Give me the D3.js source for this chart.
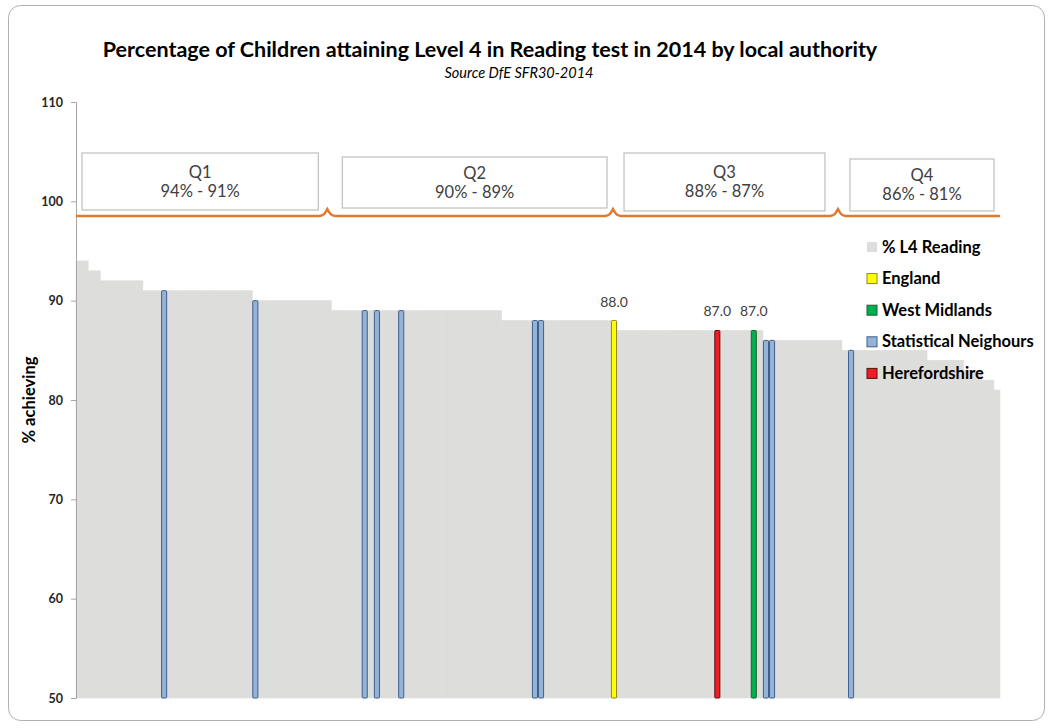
<!DOCTYPE html>
<html>
<head>
<meta charset="utf-8">
<script src="https://cdn.jsdelivr.net/npm/d3@7"></script>
<style>
  body { margin: 0; background: #fff; }
  text { font-family: Lato, "Open Sans", sans-serif; }
</style>
</head>
<body>
<div id="chart"></div>
<script>
// valeurs : % L4 Reading par autorite locale, triees
const laValues = [
  94, 94,
  93, 93,
  92, 92, 92, 92, 92, 92, 92,
  91, 91, 91, 91, 91, 91, 91, 91, 91, 91, 91, 91, 91, 91, 91, 91, 91, 91,
  90, 90, 90, 90, 90, 90, 90, 90, 90, 90, 90, 90, 90,
  89, 89, 89, 89, 89, 89, 89, 89, 89, 89, 89, 89, 89, 89, 89, 89, 89, 89, 89, 89, 89, 89, 89, 89, 89, 89, 89, 89,
  88, 88, 88, 88, 88, 88, 88, 88, 88, 88, 88, 88, 88, 88, 88, 88, 88, 88, 88,
  87, 87, 87, 87, 87, 87, 87, 87, 87, 87, 87, 87, 87, 87, 87, 87, 87, 87, 87, 87, 87, 87, 87, 87,
  86, 86, 86, 86, 86, 86, 86, 86, 86, 86, 86, 86, 86,
  85, 85, 85, 85, 85, 85, 85, 85, 85, 85, 85, 85, 85, 85,
  84, 84, 84, 84, 84, 84,
  83, 83, 83,
  82, 82,
  81
];
const laCategories = laValues.map((d, i) => "LA" + (i + 1));

// barres mises en evidence (rang dans le classement)
const highlightIdx  = [14, 29, 47, 49, 53, 75, 76, 88, 105, 111, 113, 114, 127];
const highlightType = ["sn", "sn", "sn", "sn", "sn", "sn", "sn", "eng", "here", "wm", "sn", "sn", "sn"];
const highlightLabel = ["", "", "", "", "", "", "", "88.0", "87.0", "87.0", "", "", ""];

// quartiles
const quartNames  = ["Q1", "Q2", "Q3", "Q4"];
const quartRanges = ["94% - 91%", "90% - 89%", "88% - 87%", "86% - 81%"];
const quartBreaks = [42, 89, 126];   // premier rang de chaque quartile suivant

const yTicks = [50, 60, 70, 80, 90, 100, 110];

const legendKeys   = ["gray", "eng", "wm", "sn", "here"];
const legendLabels = ["% L4 Reading", "England", "West Midlands", "Statistical Neighours", "Herefordshire"];

const fills   = { gray: "#dddddb", sn: "#95b3d7", eng: "#ffff00", wm: "#00b050", here: "#ee1c24" };
const strokes = { gray: "none", sn: "#3f5f8a", eng: "#8a8a20", wm: "#1f5f30", here: "#5a1010" };

const W = 1050, H = 728;
const svg = d3.select("#chart").append("svg")
  .attr("width", W).attr("height", H);

// cadre
svg.append("rect")
  .attr("x", 8.5).attr("y", 5.5)
  .attr("width", 1036).attr("height", 715)
  .attr("rx", 12)
  .attr("fill", "#fff")
  .attr("stroke", "#b0b0b0");

const x = d3.scaleBand().domain(laCategories).range([76, 1000]).padding(0);
const y = d3.scaleLinear().domain([50, 110]).range([698, 102]);

// titre
svg.append("text")
  .attr("x", 490).attr("y", 57)
  .attr("text-anchor", "middle")
  .attr("font-size", 21.5).attr("font-weight", "bold")
  .attr("fill", "#000")
  .text("Percentage of Children attaining Level 4 in Reading test in 2014 by local authority");
svg.append("text")
  .attr("x", 519).attr("y", 78)
  .attr("text-anchor", "middle")
  .attr("font-size", 14.5).attr("font-style", "italic")
  .attr("fill", "#000")
  .text("Source DfE SFR30-2014");

// barres grises
svg.append("g").selectAll("rect")
  .data(laValues)
  .join("rect")
  .attr("x", (d, i) => x(laCategories[i]))
  .attr("y", d => y(d))
  .attr("width", x.bandwidth())
  .attr("height", d => y(50) - y(d))
  .attr("fill", fills.gray)
  .attr("stroke", fills.gray)
  .attr("stroke-width", 0.6);

// barres colorees
const hl = highlightIdx.map((idx, k) => ({
  cat: laCategories[idx], v: laValues[idx], t: highlightType[k], lab: highlightLabel[k]
}));
svg.append("g").selectAll("rect")
  .data(hl)
  .join("rect")
  .attr("x", d => x(d.cat) + 0.5)
  .attr("y", d => y(d.v))
  .attr("width", x.bandwidth() - 1)
  .attr("height", d => y(50) - y(d.v))
  .attr("rx", 1)
  .attr("fill", d => fills[d.t])
  .attr("stroke", d => strokes[d.t])
  .attr("stroke-width", 1);

svg.append("g").selectAll("text")
  .data(hl.filter(d => d.lab))
  .join("text")
  .attr("x", d => x(d.cat) + x.bandwidth() / 2)
  .attr("y", d => y(d.v) - 14)
  .attr("text-anchor", "middle")
  .attr("font-size", 14)
  .attr("fill", "#404040")
  .text(d => d.lab);

// axe y
const ax = svg.append("g")
  .attr("transform", "translate(76,0)")
  .call(d3.axisLeft(y).tickValues(yTicks).tickSize(5).tickPadding(8).tickFormat(d3.format("d")));
ax.select(".domain").attr("stroke", "#a6a6a6");
ax.selectAll(".tick line").attr("stroke", "#a6a6a6");
ax.selectAll(".tick text")
  .attr("font-family", "'Liberation Sans', Arial, sans-serif")
  .attr("font-size", 12.5).attr("font-weight", "bold").attr("fill", "#262626");

svg.append("text")
  .attr("transform", "translate(35,400) rotate(-90)")
  .attr("text-anchor", "middle")
  .attr("font-size", 16.5).attr("font-weight", "bold")
  .attr("fill", "#000")
  .text("% achieving");

// ligne orange avec accolades
const lineY = 216;
const tips = quartBreaks.map(b => x(laCategories[b]) - 4);
let p = "M" + x.range()[0] + "," + lineY;
tips.forEach(t => {
  p += " L" + (t - 8) + "," + lineY +
       " Q" + (t - 4) + "," + lineY + " " + (t - 2) + "," + (lineY - 3.5) +
       " L" + t + "," + (lineY - 7) +
       " L" + (t + 2) + "," + (lineY - 3.5) +
       " Q" + (t + 4) + "," + lineY + " " + (t + 8) + "," + lineY;
});
p += " L" + x.range()[1] + "," + lineY;
svg.append("path")
  .attr("d", p)
  .attr("fill", "none")
  .attr("stroke", "#e07b2e")
  .attr("stroke-width", 2.5);

// boites des quartiles
const boxTop = [153, 157, 153, 159];
const boxBot = [210, 208, 211, 211];
const edges = [x.range()[0]].concat(tips).concat([x.range()[1]]);
const padL = [6, 15, 11, 12];
const padR = [9, 6, 13, 6];
quartNames.forEach((q, i) => {
  const x0 = edges[i] + padL[i], x1 = edges[i + 1] - padR[i];
  svg.append("rect")
    .attr("x", x0).attr("y", boxTop[i])
    .attr("width", x1 - x0).attr("height", boxBot[i] - boxTop[i])
    .attr("fill", "#fff")
    .attr("stroke", "#bfbfbf").attr("stroke-width", 1.2);
  const cx = (x0 + x1) / 2;
  const mid = (boxTop[i] + boxBot[i]) / 2;
  svg.append("text")
    .attr("x", cx).attr("y", mid - 4)
    .attr("text-anchor", "middle")
    .attr("font-size", 16.5).attr("fill", "#404040")
    .text(q);
  svg.append("text")
    .attr("x", cx).attr("y", mid + 15)
    .attr("text-anchor", "middle")
    .attr("font-size", 16.5).attr("fill", "#404040")
    .text(quartRanges[i]);
});

// legende
const lg = svg.append("g");
legendKeys.forEach((k, i) => {
  const cy = 247 + i * 31.6;
  lg.append("rect")
    .attr("x", 867).attr("y", cy - 5)
    .attr("width", 10).attr("height", 10)
    .attr("fill", fills[k])
    .attr("stroke", k === "gray" ? "none" : strokes[k])
    .attr("stroke-width", 1);
  lg.append("text")
    .attr("x", 882).attr("y", cy + 5.5)
    .attr("font-size", 16.5).attr("font-weight", "bold")
    .attr("fill", "#000")
    .text(legendLabels[i]);
});
</script>
</body>
</html>
